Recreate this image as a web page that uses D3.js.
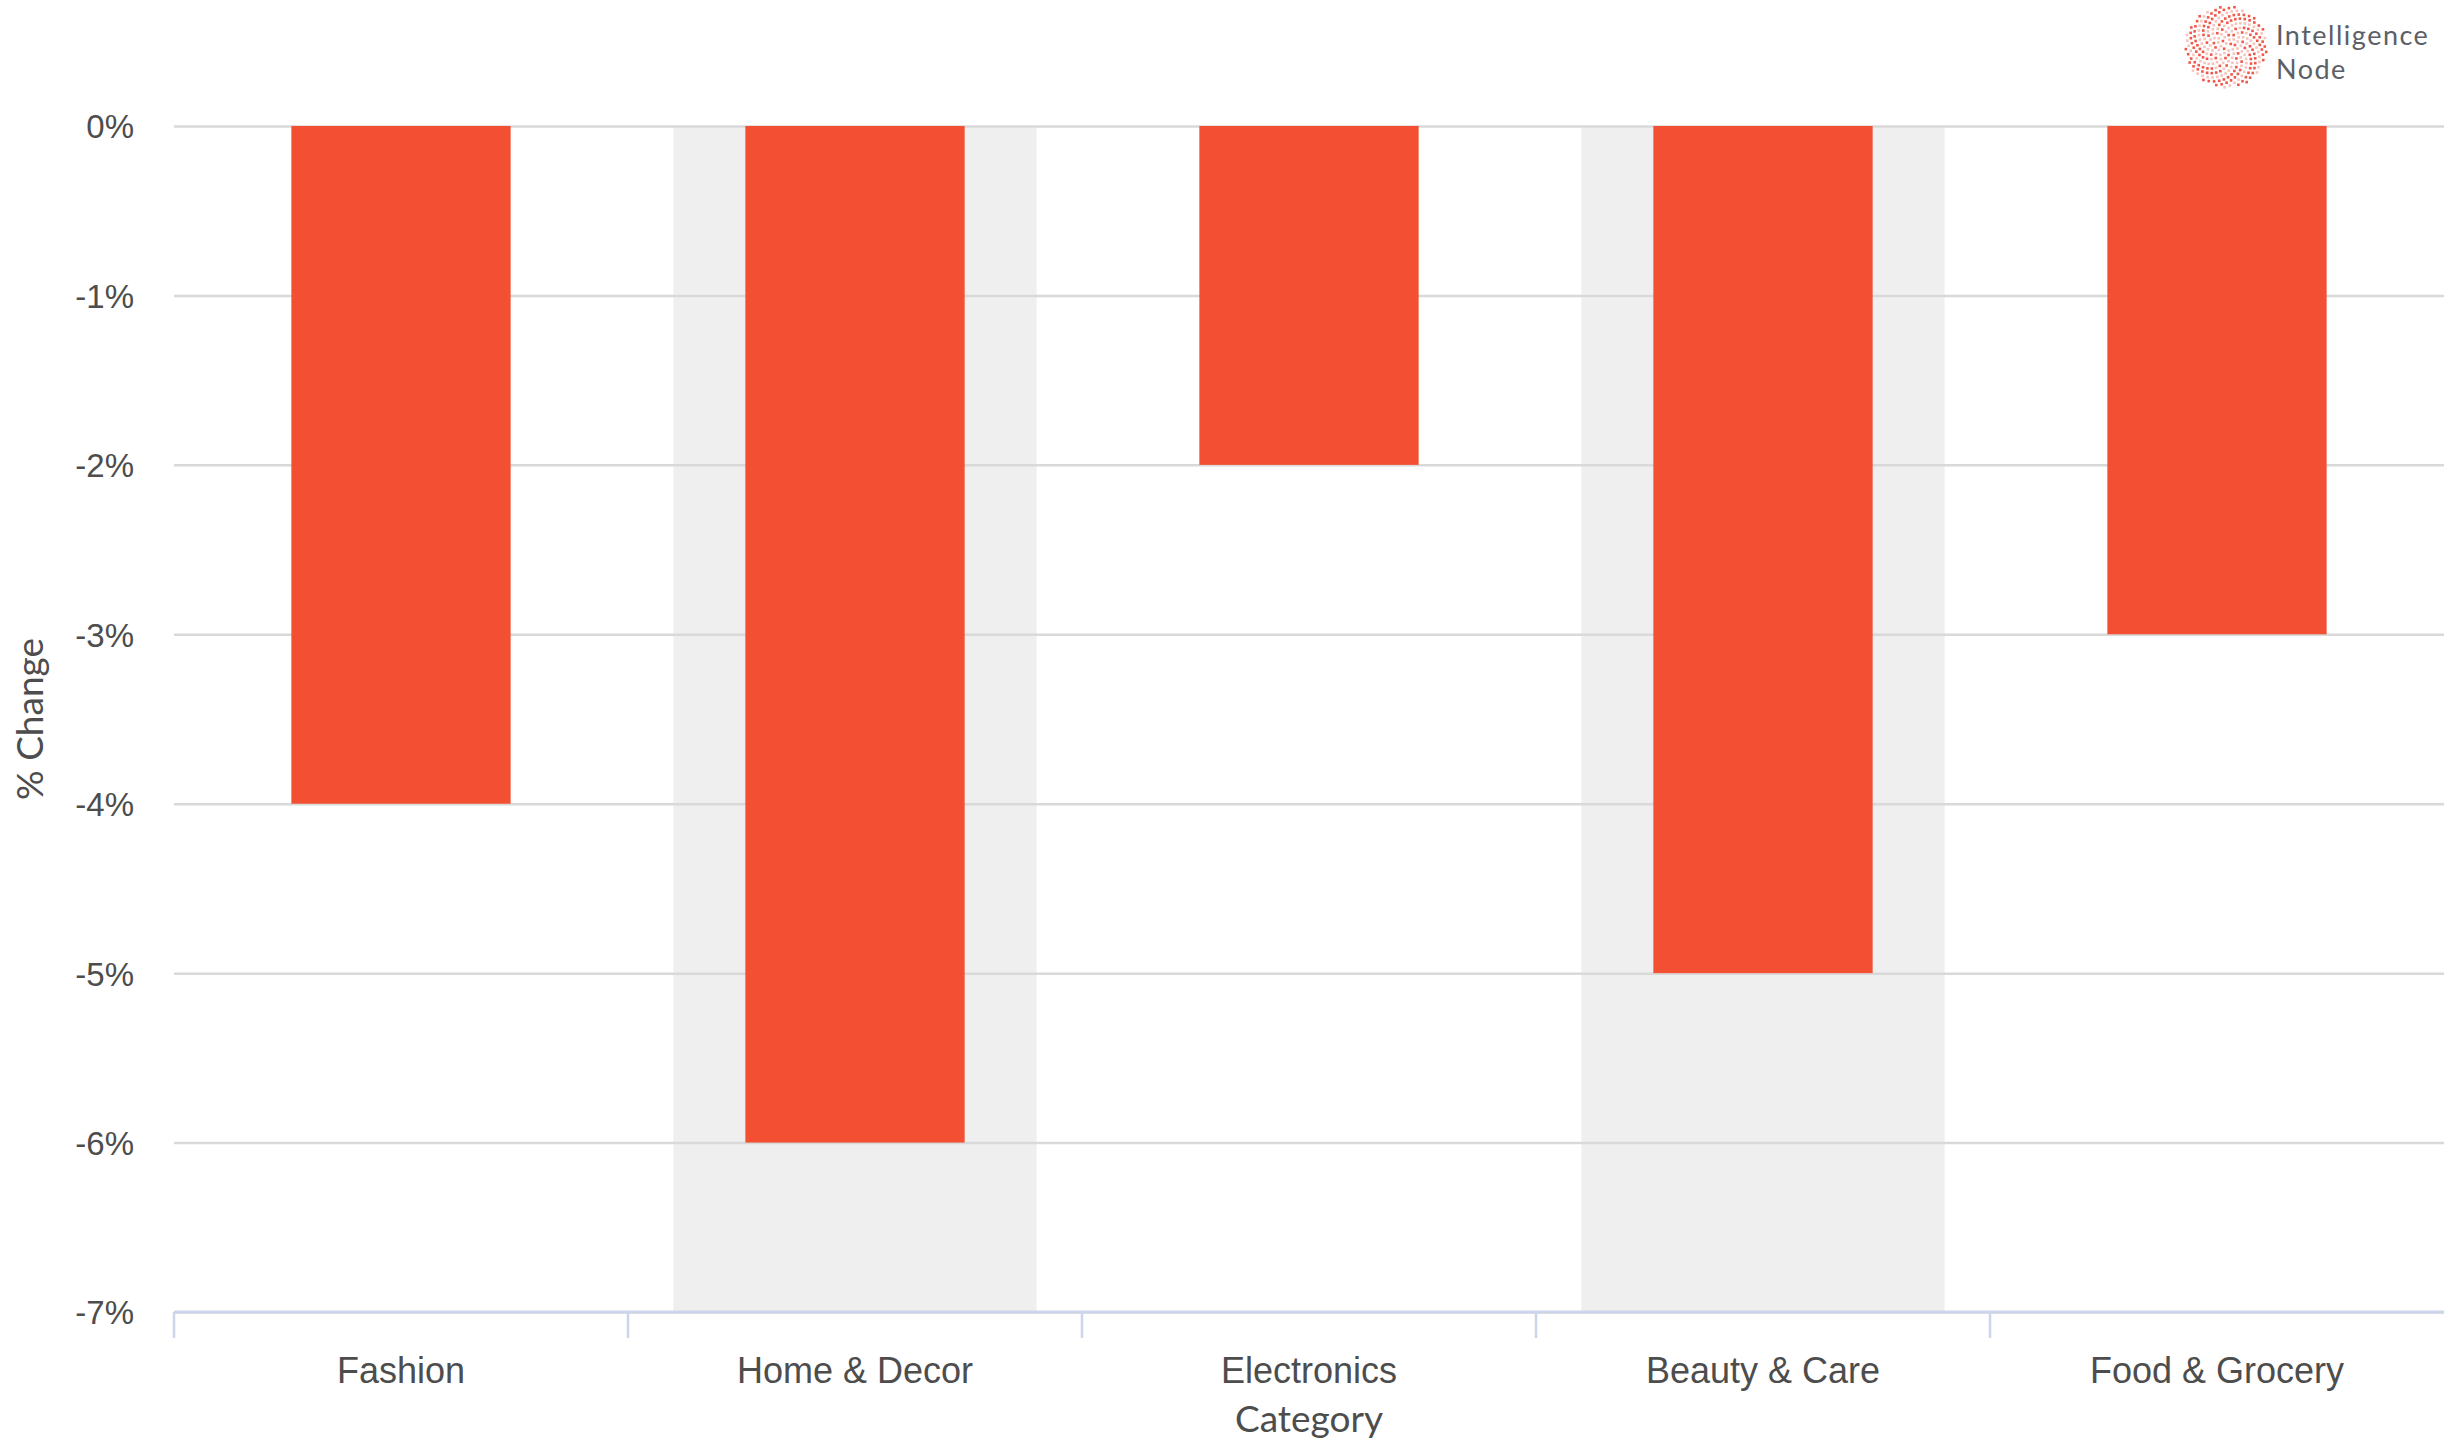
<!DOCTYPE html>
<html>
<head>
<meta charset="utf-8">
<script src="https://cdn.jsdelivr.net/npm/d3@7"></script>
<style>
  html, body { margin: 0; padding: 0; background: #fff; }
  svg { display: block; font-family: Lato, "Noto Sans", sans-serif; }
</style>
</head>
<body>
<svg id="chart" width="2445" height="1447"></svg>
<script>
// ---- data ----
const categories = ["Fashion", "Home & Decor", "Electronics", "Beauty & Care", "Food & Grocery"];
const changeValues = [-4, -6, -2, -5, -3];
const yTicks = [0, -1, -2, -3, -4, -5, -6, -7];
const shadedCategories = ["Home & Decor", "Beauty & Care"];
const xTitle = "Category";
const yTitle = "% Change";
const logoLines = ["Intelligence", "Node"];

// ---- layout ----
const W = 2445, H = 1447;
const m = { left: 174, right: 1, top: 126, bottom: 135 };
const svg = d3.select("#chart");

const x = d3.scaleBand().domain(categories).range([m.left, W - m.right]).paddingInner(0).paddingOuter(0);
const y = d3.scaleLinear().domain([0, -7]).range([m.top, H - m.bottom]);

const textColor = "#4d4d4d";

// plot bands
svg.append("g").selectAll("rect").data(shadedCategories).join("rect")
  .attr("x", d => x(d) + x.bandwidth() * 0.1)
  .attr("width", x.bandwidth() * 0.8)
  .attr("y", y(0))
  .attr("height", y(-7) - y(0))
  .attr("fill", "#efefef");

// grid lines + y tick labels
const yAxisG = svg.append("g")
  .attr("transform", `translate(${m.left},0)`)
  .call(d3.axisLeft(y).tickValues(yTicks).tickSize(-(W - m.right - m.left)).tickPadding(40)
    .tickFormat(d => d + "%"));
yAxisG.select(".domain").remove();
yAxisG.selectAll(".tick line").attr("stroke", "#d9d9d9").attr("stroke-width", 2.5);
yAxisG.selectAll(".tick text")
  .attr("fill", textColor)
  .style("font-size", "33px")
  .attr("dy", "0.36em");

// bars
svg.append("g").selectAll("rect").data(categories).join("rect")
  .attr("x", (d) => x(d) + x.bandwidth() * 0.2585)
  .attr("width", x.bandwidth() * 0.483)
  .attr("y", (d, i) => y(Math.max(0, changeValues[i])))
  .attr("height", (d, i) => Math.abs(y(changeValues[i]) - y(0)))
  .attr("fill", "#f24f33");

// x axis
const xAxisG = svg.append("g")
  .attr("transform", `translate(0,${y(-7)})`)
  .call(d3.axisBottom(x).tickSize(0).tickPadding(45));
xAxisG.select(".domain").attr("stroke", "#ccd6eb").attr("stroke-width", 3)
  .attr("d", `M${m.left},0H${W - m.right}`);
xAxisG.selectAll(".tick text")
  .attr("fill", textColor)
  .style("font-size", "36px")
  .attr("y", 71).attr("dy", 0);

// category boundary ticks
svg.append("g").selectAll("line").data(categories).join("line")
  .attr("x1", d => x(d)).attr("x2", d => x(d))
  .attr("y1", y(-7)).attr("y2", y(-7) + 26)
  .attr("stroke", "#ccd6eb").attr("stroke-width", 2.5);

// axis titles
svg.append("text")
  .attr("x", (m.left + W - m.right) / 2)
  .attr("y", 1432)
  .attr("text-anchor", "middle")
  .attr("fill", textColor)
  .style("font-size", "37px")
  .text(xTitle);

svg.append("text")
  .attr("transform", `translate(43,${(y(0) + y(-7)) / 2}) rotate(-90)`)
  .attr("text-anchor", "middle")
  .attr("fill", textColor)
  .style("font-size", "37px")
  .text(yTitle);

// logo
const logo = svg.append("g").attr("transform", "translate(2226,47)");
const nDots = 260;
const golden = Math.PI * (3 - Math.sqrt(5));
for (let i = 1; i < nDots; i++) {
  const r = 41 * Math.sqrt(i / nDots);
  const a = i * golden;
  const light = (i % 3 === 0) || (r < 25 && i % 2 === 0);
  logo.append("rect")
    .attr("x", r * Math.cos(a) - 1.3).attr("y", r * Math.sin(a) - 1.3)
    .attr("width", 2.6).attr("height", 2.6)
    .attr("fill", light ? "#f6c4bd" : "#f0584a");
}
logo.selectAll("text.logo").data(logoLines).join("text")
  .attr("class", "logo")
  .attr("x", 50)
  .attr("y", (d, i) => -2 + i * 34)
  .attr("fill", "#5b6066")
  .style("font-size", "27px")
  .style("letter-spacing", "1.5px")
  .style("font-weight", 400)
  .text(d => d);
</script>
</body>
</html>
